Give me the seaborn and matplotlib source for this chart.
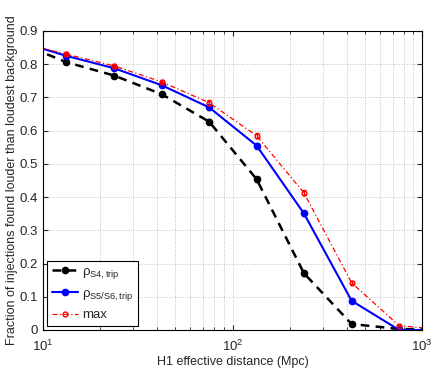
import numpy as np
import pandas as pd
import matplotlib
matplotlib.use('Agg')
import matplotlib.pyplot as plt
import seaborn as sns

# data (first/last points lie just outside the axes)
distance = [7.5, 13.3, 23.7, 42.2, 75.3, 134, 238, 425, 757, 1347]
eff_s4 = [0.864, 0.806, 0.766, 0.710, 0.627, 0.454, 0.171, 0.018, 0.003, 0.0]
eff_s56 = [0.868, 0.825, 0.788, 0.737, 0.670, 0.555, 0.351, 0.088, 0.0, 0.0]
eff_max = [0.866, 0.830, 0.795, 0.747, 0.684, 0.585, 0.413, 0.142, 0.013, 0.0]
err = [0.006, 0.006, 0.006, 0.006, 0.007, 0.008, 0.008, 0.005, 0.002, 0.0]

x_ticks = [10, 100, 1000]
y_ticks = [0, 0.1, 0.2, 0.3, 0.4, 0.5, 0.6, 0.7, 0.8, 0.9]

sns.set_style('ticks')
plt.rcParams['font.family'] = ['Liberation Sans', 'DejaVu Sans']
plt.rcParams['mathtext.fontset'] = 'custom'
plt.rcParams['mathtext.rm'] = 'Liberation Sans'
plt.rcParams['mathtext.it'] = 'Liberation Sans'

df = pd.DataFrame({'d': distance, 's4': eff_s4, 's56': eff_s56, 'max': eff_max})

fig = plt.figure(figsize=(4.36, 3.69), dpi=100)
ax = fig.add_axes([0.0986, 0.1057, 0.8694, 0.8103])

styles = [
    ('s4', r'$\rho_{\mathrm{S4,trip}}$', 'black', (0, (3.5, 2.5)), 1.8, 'o', 'black', 4.5),
    ('s56', r'$\rho_{\mathrm{S5/S6,trip}}$', 'blue', '-', 1.5, 'o', 'blue', 4.5),
    ('max', 'max', 'red', (0, (4, 2, 1, 2)), 0.9, 'o', 'none', 3.5),
]

for col, lab, c, ls, lw, mk, mfc, ms in styles:
    sns.lineplot(data=df, x='d', y=col, ax=ax, color=c, linestyle=ls, linewidth=lw,
                 marker=mk, markerfacecolor=mfc, markeredgecolor=c, markersize=ms,
                 markeredgewidth=1.0, label=lab, sort=False)
    ax.errorbar(df['d'], df[col], yerr=err, fmt='none', ecolor=c, elinewidth=1.0,
                capsize=1.5, capthick=1.0)

ax.set_xscale('log')
ax.set_xlim(10, 1000)
ax.set_ylim(0, 0.9)
ax.set_xticks(x_ticks)
ax.set_yticks(y_ticks)
ax.set_yticklabels(['0', '0.1', '0.2', '0.3', '0.4', '0.5', '0.6', '0.7', '0.8', '0.9'])

ax.grid(True, which='major', linestyle=':', color='#c0c0c0', linewidth=0.7)
ax.grid(True, which='minor', axis='x', linestyle=':', color='#c0c0c0', linewidth=0.7)
ax.tick_params(which='both', direction='in', top=True, right=True, labelsize=9.5)
ax.tick_params(axis='x', pad=6)
for s in ax.spines.values():
    s.set_linewidth(0.8)
    s.set_color('black')

ax.set_xlabel('H1 effective distance (Mpc)', fontsize=9, labelpad=2)
ax.set_ylabel('Fraction of injections found louder than loudest background', fontsize=9,
              labelpad=1)

leg = ax.legend(loc='lower left', fontsize=9.5, fancybox=False, framealpha=1,
                edgecolor='black', handlelength=2.0, handletextpad=0.3,
                borderaxespad=0.3, labelspacing=0.5, borderpad=0.35)
leg.get_frame().set_linewidth(0.8)

fig.savefig('out.png', dpi=100)
